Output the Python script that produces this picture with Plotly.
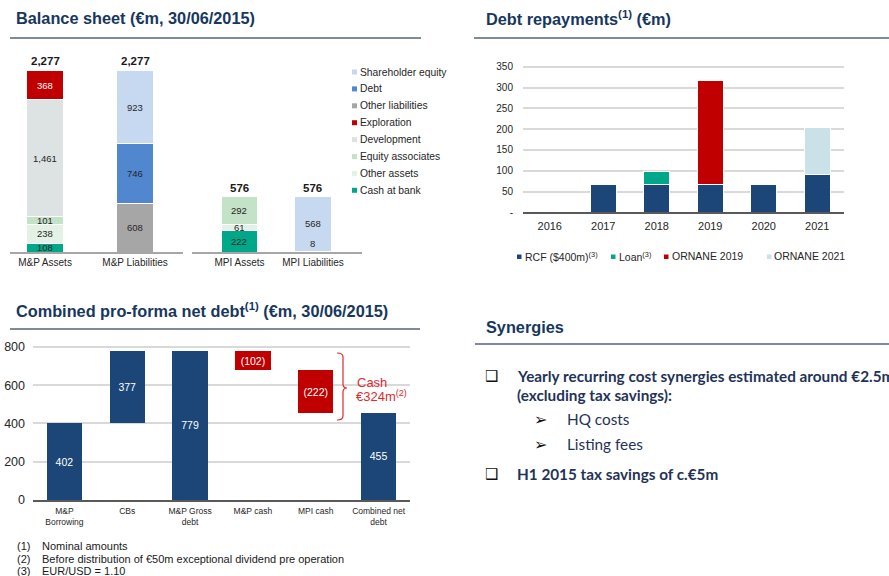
import plotly.graph_objects as go

W, H = 889, 576
def px(x):
    return x / W
def py(y):
    return 1 - y / H

# ---------------- DATA ----------------
# Balance sheet (EUR m, 30/06/2015)
bs_mp_cats = ["M&P Assets", "M&P Liabilities"]
bs_mpi_cats = ["MPI Assets", "MPI Liabilities"]
bs_series = ["Cash at bank", "Other assets", "Equity associates", "Development",
             "Exploration", "Other liabilities", "Debt", "Shareholder equity"]
bs_mp_values = {
    "Cash at bank": [108, 0], "Other assets": [238, 0], "Equity associates": [101, 0],
    "Development": [1461, 0], "Exploration": [368, 0],
    "Other liabilities": [0, 608], "Debt": [0, 746], "Shareholder equity": [0, 923],
}
bs_mpi_values = {
    "Cash at bank": [222, 0], "Other assets": [61, 0], "Equity associates": [292, 0],
    "Development": [0, 0], "Exploration": [0, 0],
    "Other liabilities": [0, 8], "Debt": [0, 0], "Shareholder equity": [0, 568],
}
bs_mp_totals = [2277, 2277]
bs_mpi_totals = [576, 576]
bs_legend_order = ["Shareholder equity", "Debt", "Other liabilities", "Exploration",
                   "Development", "Equity associates", "Other assets", "Cash at bank"]

# Debt repayments (EUR m)
dr_years = ["2016", "2017", "2018", "2019", "2020", "2021"]
dr_rcf = [0, 68, 68, 68, 68, 92]
dr_loan = [0, 0, 29, 0, 0, 0]
dr_ornane_2019 = [0, 0, 0, 250, 0, 0]
dr_ornane_2021 = [0, 0, 0, 0, 0, 112]
dr_ticks = [0, 50, 100, 150, 200, 250, 300, 350]
dr_ticktext = ["-", "50", "100", "150", "200", "250", "300", "350"]

# Combined pro-forma net debt (EUR m)
nd_cats = ["M&P<br>Borrowing", "CBs", "M&P Gross<br>debt", "M&P cash", "MPI cash", "Combined net<br>debt"]
nd_values = [402, 377, 779, -102, -222, 455]
nd_measure = ["absolute", "relative", "total", "relative", "relative", "total"]
nd_ticks = [0, 200, 400, 600, 800]

# ---------------- STYLE ----------------
FONT = "Liberation Sans, Arial, sans-serif"
NAVY_T = "#17375E"
TXT = "#262626"
colors = {
    "Shareholder equity": "#C6D9F1", "Debt": "#5087CF", "Other liabilities": "#A6A6A6",
    "Exploration": "#C00000", "Development": "#DDE2E2", "Equity associates": "#C3E2C8",
    "Other assets": "#E4F2E6", "Cash at bank": "#00A889",
}
C_RCF, C_LOAN, C_O19, C_O21 = "#1B4677", "#00A889", "#C00000", "#CBE1E8"
C_POS, C_NEG = "#1B4677", "#C00000"

fig = go.Figure()
annotations = []
shapes = []

# ---- Balance sheet geometry ----
bs_base_px, bs_top_px = 252, 60
mp_scale = 0.0798     # px per unit
mpi_scale = 0.0962
mp_ymax = (bs_base_px - bs_top_px) / mp_scale
mpi_ymax = (bs_base_px - bs_top_px) / mpi_scale

for s in bs_series:
    v = [x if x else None for x in bs_mp_values[s]]
    fig.add_trace(go.Bar(x=bs_mp_cats, y=v, name=s, marker_color=colors[s],
                         marker_line=dict(color="white", width=1), width=0.42,
                         xaxis="x", yaxis="y", showlegend=False, hoverinfo="skip"))
    v2 = [x if x else None for x in bs_mpi_values[s]]
    fig.add_trace(go.Bar(x=bs_mpi_cats, y=v2, name=s, marker_color=colors[s],
                         marker_line=dict(color="white", width=1), width=0.5,
                         xaxis="x2", yaxis="y2", showlegend=False, hoverinfo="skip"))

def seg_labels(cats, values, xref, yref, scale):
    for i, c in enumerate(cats):
        cum = 0
        for s in bs_series:
            val = values[s][i]
            if not val:
                continue
            mid = cum + val / 2
            hpx = val * scale
            annotations.append(dict(
                x=c, y=mid, xref=xref, yref=yref, text=f"{val:,}", showarrow=False,
                font=dict(family=FONT, size=9.5, color="white" if s == "Exploration" else TXT),
                yshift=8 if hpx < 3 else 0))
            cum += val

seg_labels(bs_mp_cats, bs_mp_values, "x", "y", mp_scale)
seg_labels(bs_mpi_cats, bs_mpi_values, "x2", "y2", mpi_scale)
for c, t in zip(bs_mp_cats, bs_mp_totals):
    annotations.append(dict(x=c, y=t, xref="x", yref="y", text=f"<b>{t:,}</b>", showarrow=False,
                            yanchor="bottom", yshift=1, font=dict(family=FONT, size=11.5, color="#1a1a1a")))
for c, t in zip(bs_mpi_cats, bs_mpi_totals):
    annotations.append(dict(x=c, y=t, xref="x2", yref="y2", text=f"<b>{t:,}</b>", showarrow=False,
                            yanchor="bottom", yshift=1, font=dict(family=FONT, size=11.5, color="#1a1a1a")))

# balance sheet legend
for k, s in enumerate(bs_legend_order):
    yc = 72 + k * 16.9
    shapes.append(dict(type="rect", xref="paper", yref="paper", x0=px(352), x1=px(357),
                       y0=py(yc + 2.5), y1=py(yc - 2.5), fillcolor=colors[s], line_width=0))
    annotations.append(dict(x=px(358), y=py(yc), xref="paper", yref="paper", text=s,
                            showarrow=False, xanchor="left", yanchor="middle",
                            font=dict(family=FONT, size=10.3, color=TXT)))

# ---- Debt repayments ----
for vals, name, col in [(dr_rcf, "RCF", C_RCF), (dr_loan, "Loan", C_LOAN),
                        (dr_ornane_2019, "ORNANE 2019", C_O19), (dr_ornane_2021, "ORNANE 2021", C_O21)]:
    fig.add_trace(go.Bar(x=dr_years, y=[v if v else None for v in vals], name=name,
                         marker_color=col, marker_line=dict(color="white", width=1), width=0.49,
                         xaxis="x3", yaxis="y3", showlegend=False, hoverinfo="skip"))

dr_leg = [(517, 523, C_RCF, "RCF ($400m)<sup>(3)</sup>"), (611, 617, C_LOAN, "Loan<sup>(3)</sup>"),
          (664, 670, C_O19, "ORNANE 2019"), (767, 772, C_O21, "ORNANE 2021")]
for x0, xt, col, txt in dr_leg:
    shapes.append(dict(type="rect", xref="paper", yref="paper", x0=px(x0), x1=px(x0 + 4.5),
                       y0=py(259), y1=py(254.5), fillcolor=col, line_width=0))
    annotations.append(dict(x=px(xt), y=py(256), xref="paper", yref="paper", text=txt,
                            showarrow=False, xanchor="left", yanchor="middle",
                            font=dict(family=FONT, size=10.5, color=TXT)))

# ---- Net debt waterfall ----
bases, heights, cols, labels = [], [], [], []
running = 0
for v, m in zip(nd_values, nd_measure):
    if m in ("absolute", "total"):
        bases.append(0); heights.append(v); running = v; cols.append(C_POS)
        labels.append(f"{v}")
    else:
        if v >= 0:
            bases.append(running); heights.append(v); cols.append(C_POS)
            labels.append(f"{v}")
        else:
            bases.append(running + v); heights.append(-v); cols.append(C_NEG)
            labels.append(f"({-v})")
        running += v
fig.add_trace(go.Bar(x=nd_cats, y=heights, base=bases, marker_color=cols, marker_line_width=0,
                     width=0.56, text=labels, textposition="inside", insidetextanchor="middle",
                     textangle=0, constraintext="none",
                     textfont=dict(family=FONT, size=10.5, color="white"),
                     xaxis="x4", yaxis="y4", showlegend=False, hoverinfo="skip"))

# bracket & cash note
RED_T = "#E0292E"
bx = [px(337), px(343), px(347)]
by = [py(353), py(388), py(420)]
path = (f"M {bx[0]},{by[0]} Q {bx[1]},{by[0]} {bx[1]},{py(357)} L {bx[1]},{py(384)} "
        f"Q {bx[1]},{by[1]} {bx[2]},{by[1]} Q {bx[1]},{by[1]} {bx[1]},{py(392)} "
        f"L {bx[1]},{py(416)} Q {bx[1]},{by[2]} {bx[0]},{by[2]}")
shapes.append(dict(type="path", xref="paper", yref="paper", path=path,
                   line=dict(color=RED_T, width=1.2)))
annotations.append(dict(x=px(355), y=py(382), xref="paper", yref="paper", text="Cash",
                        showarrow=False, xanchor="left", yanchor="middle",
                        font=dict(family=FONT, size=13, color=RED_T)))
annotations.append(dict(x=px(354), y=py(396), xref="paper", yref="paper",
                        text="€324m<sup>(2)</sup>", showarrow=False, xanchor="left", yanchor="middle",
                        font=dict(family=FONT, size=13, color=RED_T)))

# ---- Titles & rules ----
def title(x, y, txt):
    annotations.append(dict(x=px(x), y=py(y), xref="paper", yref="paper", text=f"<b>{txt}</b>",
                            showarrow=False, xanchor="left", yanchor="middle",
                            font=dict(family=FONT, size=16.3, color=NAVY_T)))
def rule(x0, x1, y):
    shapes.append(dict(type="line", xref="paper", yref="paper", x0=px(x0), x1=px(x1),
                       y0=py(y), y1=py(y), line=dict(color="#7F8B99", width=2)))

title(14, 18, "Balance sheet (€m, 30/06/2015)")
rule(10, 421, 38)
title(484, 18, "Debt repayments<sup>(1)</sup> (€m)")
rule(474, 889, 38)
title(14, 310, "Combined pro-forma net debt<sup>(1)</sup> (€m, 30/06/2015)")
rule(10, 420, 329)
title(484, 327, "Synergies")
rule(475, 889, 344)

# footnotes
for k, (n, t) in enumerate([("(1)", "Nominal amounts"),
                            ("(2)", "Before distribution of €50m exceptional dividend pre operation"),
                            ("(3)", "EUR/USD = 1.10")]):
    yc = 546 + k * 12.6
    annotations.append(dict(x=px(15), y=py(yc), xref="paper", yref="paper", text=n, showarrow=False,
                            xanchor="left", yanchor="middle", font=dict(family=FONT, size=11, color="#1a1a1a")))
    annotations.append(dict(x=px(40), y=py(yc), xref="paper", yref="paper", text=t, showarrow=False,
                            xanchor="left", yanchor="middle", font=dict(family=FONT, size=11, color="#1a1a1a")))

# synergies bullets
SYN = "#1F3358"
SFONT = "Lato, Open Sans, sans-serif"
syn_items = [
    (491, 515, 376, "❑", "<b>Yearly recurring cost synergies estimated around €2.5m</b>"),
    (None, 515, 395, None, "<b>(excluding tax savings):</b>"),
    (540, 565, 419, "➢", "HQ costs"),
    (540, 565, 444, "➢", "Listing fees"),
    (491, 515, 474, "❑", "<b>H1 2015 tax savings of c.€5m</b>"),
]
for bxp, tx, yc, bullet, txt in syn_items:
    if bullet:
        annotations.append(dict(x=px(bxp), y=py(yc), xref="paper", yref="paper", text=bullet,
                                showarrow=False, xanchor="center", yanchor="middle",
                                font=dict(family="DejaVu Sans", size=16 if bullet == "➢" else 15,
                                          color="#111111")))
    annotations.append(dict(x=px(tx), y=py(yc), xref="paper", yref="paper", text=txt,
                            showarrow=False, xanchor="left", yanchor="middle",
                            font=dict(family=SFONT, size=15.3, color=SYN)))

# ---------------- LAYOUT ----------------
cat_axis = dict(showgrid=False, zeroline=False, ticks="", fixedrange=True, automargin=False)
fig.update_layout(
    width=W, height=H, margin=dict(l=0, r=0, t=0, b=0, autoexpand=False),
    paper_bgcolor="white", plot_bgcolor="white",
    barmode="stack", font=dict(family=FONT, color=TXT),
    xaxis=dict(domain=[px(10), px(183)], range=[-0.389, 1.533], anchor="y", showline=True,
               linecolor="#A6A6A6", linewidth=2, tickfont=dict(size=10, color=TXT), **cat_axis),
    yaxis=dict(domain=[py(bs_base_px), py(bs_top_px)], range=[0, mp_ymax], visible=False,
               anchor="x", automargin=False),
    xaxis2=dict(domain=[px(192), px(362)], range=[-0.646, 1.667], anchor="y2", showline=True,
                linecolor="#A6A6A6", linewidth=2, tickfont=dict(size=10, color=TXT), **cat_axis),
    yaxis2=dict(domain=[py(bs_base_px), py(bs_top_px)], range=[0, mpi_ymax], visible=False,
                anchor="x2", automargin=False),
    xaxis3=dict(domain=[px(523), px(844)], range=[-0.5, 5.5], anchor="y3", showline=True,
                linecolor="#595959", linewidth=2, tickfont=dict(size=11, color=TXT),
                ticklabelstandoff=2, **cat_axis),
    yaxis3=dict(domain=[py(212.3), py(62)], range=[0, (212.3 - 62) / 0.416], anchor="x3",
                tickvals=dr_ticks, ticktext=dr_ticktext, showgrid=True, gridcolor="#D9D9D9",
                gridwidth=1.5, zeroline=False, showline=False, ticks="", automargin=False,
                tickfont=dict(size=10, color=TXT), ticklabelstandoff=9),
    xaxis4=dict(domain=[px(33), px(410)], range=[-0.5, 5.5], anchor="y4", showline=True,
                linecolor="#595959", linewidth=2, tickfont=dict(size=8.5, color=TXT),
                ticklabelstandoff=2, **cat_axis),
    yaxis4=dict(domain=[py(500), py(343)], range=[0, 157 / 0.1913], anchor="x4",
                tickvals=nd_ticks, showgrid=True, gridcolor="#D9D9D9", gridwidth=1.5,
                zeroline=False, showline=False, ticks="", automargin=False,
                tickfont=dict(size=12.5, color=TXT), ticklabelstandoff=7),
    annotations=annotations, shapes=shapes,
)

fig.write_html("out.html", config={"displayModeBar": False},
               post_script="document.body.style.margin='0';document.body.style.overflow='hidden';")
